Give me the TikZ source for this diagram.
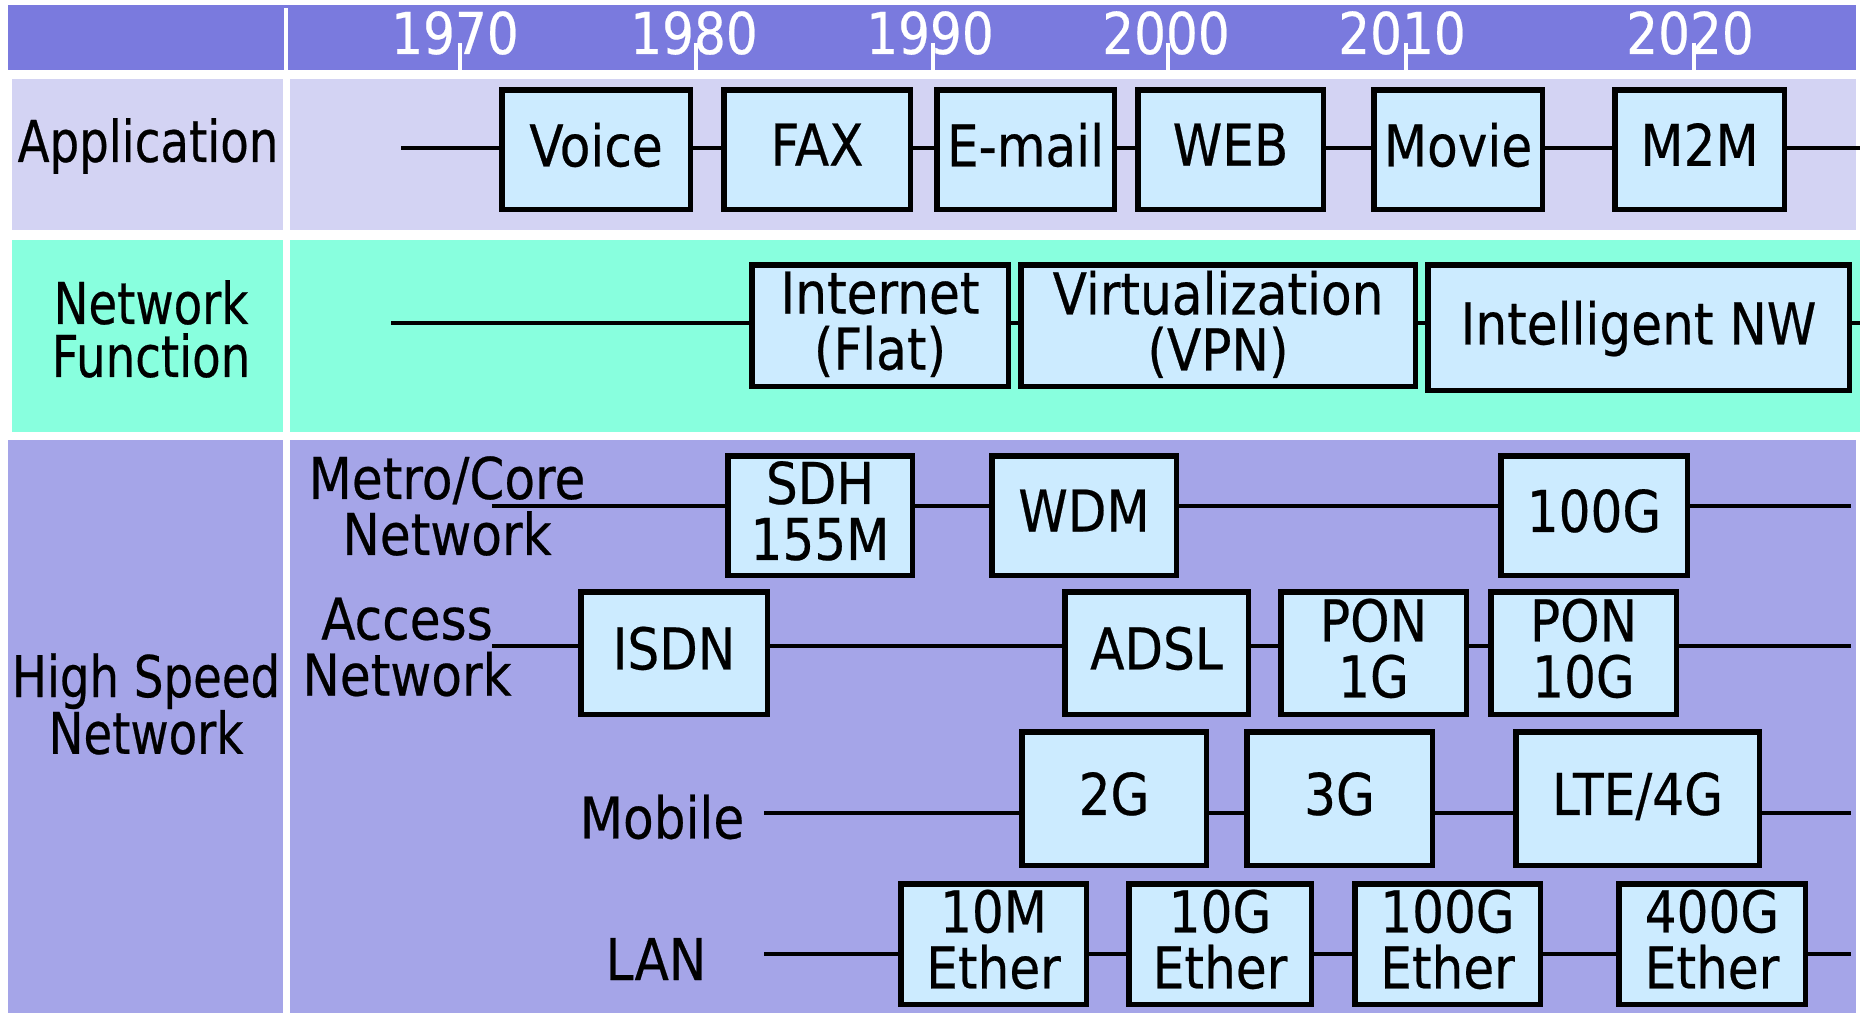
\documentclass[tikz,border=0pt]{standalone}
\usepackage{fontspec}
\setmainfont{DejaVu Sans}[FakeStretch=0.87, FakeBold=0.4]
\newfontfamily\narrowfont{DejaVu Sans}[FakeStretch=0.81, FakeBold=0.4]
\definecolor{headbg}{HTML}{7A7ADE}
\definecolor{appbg}{HTML}{D3D3F3}
\definecolor{nfbg}{HTML}{88FFDE}
\definecolor{hsbg}{HTML}{A5A5E8}
\definecolor{boxfill}{HTML}{CCEBFF}
% box from outer corners: name, x1, y1, x2, y2, text
\newcommand\ybox[6]{%
  \node[box, minimum width={#4-#2-5.5}, minimum height={#5-#3-5.5}]
    (#1) at ({(#2+#4)/2},{(#3+#5)/2}) {#6};}
\begin{document}
\begin{tikzpicture}[x=1pt,y=-1pt,
  every node/.style={font=\fontsize{57.6}{56}\selectfont, inner sep=0pt, align=center},
  rowtitle/.style={font=\narrowfont\fontsize{57.6}{#1}\selectfont},
  rowtitle/.default=56,
  box/.style={draw=black, line width=5.5pt, fill=boxfill, text depth=10pt},
  conn/.style={draw=black, line width=3.5pt},
  tick/.style={draw=white, line width=4.5pt},
  year/.style={text=white}]
\useasboundingbox (0,0) rectangle (1860,1013);
\fill[white] (0,0) rectangle (1860,1013);

% header band with year scale
\fill[headbg] (8,5) rectangle (1856,70);
\draw[tick] (286,8) -- (286,70);
\foreach \yr/\xc/\xt/\yb in {1970/455/460/70, 1980/694/696/70, 1990/930/933/70,
                             2000/1166/1168/70, 2010/1402/1406/70, 2020/1690/1694/80}{
  \node[year] (y\yr) at (\xc,33) {\yr};
  \draw[tick] (\xt,43) -- (\xt,\yb);
}

% row backgrounds
\fill[appbg] (12,79) rectangle (283,230);
\fill[appbg] (290,79) rectangle (1856,230);
\fill[nfbg] (12,240) rectangle (283,432);
\fill[nfbg] (290,240) rectangle (1860,432);
\fill[hsbg] (8,440) rectangle (283,1013);
\fill[hsbg] (290,440) rectangle (1856,1013);

% row titles
\node[rowtitle] (lapp) at (148,146) {Application};
\node[rowtitle=53] (lnf) at (151,329) {Network\\Function};
\node[rowtitle=52] (lhs) at (146,704) {High Speed\\Network};
\node (lmc) at (447,506) {Metro/Core\\Network};
\node (lacc) at (407,647) {Access\\Network};
\node (lmob) at (662,817) {Mobile};
\node (llan) at (656,959) {LAN};

% application
\ybox{voice}{499}{87}{693}{212}{Voice}
\ybox{fax}{721}{87}{913}{212}{FAX}
\ybox{email}{934}{87}{1117}{212}{E-mail}
\ybox{web}{1135}{87}{1326}{212}{WEB}
\ybox{movie}{1371}{87}{1545}{212}{Movie}
\ybox{mtm}{1612}{87}{1787}{212}{M2M}
\coordinate (aS) at (401,148);
\coordinate (aE) at (1860,148);
\draw[conn] (aS) -- (voice.west |- aS);
\draw[conn] (voice.east |- aS) -- (fax.west |- aS);
\draw[conn] (fax.east |- aS) -- (email.west |- aS);
\draw[conn] (email.east |- aS) -- (web.west |- aS);
\draw[conn] (web.east |- aS) -- (movie.west |- aS);
\draw[conn] (movie.east |- aS) -- (mtm.west |- aS);
\draw[conn] (mtm.east |- aS) -- (aE);

% network function
\ybox{inet}{749}{262}{1011}{389}{Internet\\(Flat)}
\ybox{virt}{1018}{262}{1418}{389}{Virtualization\\(VPN)}
\ybox{intel}{1425}{262}{1852}{393}{Intelligent NW}
\coordinate (nS) at (391,323);
\coordinate (nE) at (1860,323);
\draw[conn] (nS) -- (inet.west |- nS);
\draw[conn] (inet.east |- nS) -- (virt.west |- nS);
\draw[conn] (virt.east |- nS) -- (intel.west |- nS);
\draw[conn] (intel.east |- nS) -- (nE);

% metro / core
\ybox{sdh}{725}{453}{915}{578}{SDH\\155M}
\ybox{wdm}{989}{453}{1179}{578}{WDM}
\ybox{chg}{1498}{453}{1690}{578}{100G}
\coordinate (mS) at (492,506);
\coordinate (mE) at (1851,506);
\draw[conn] (mS) -- (sdh.west |- mS);
\draw[conn] (sdh.east |- mS) -- (wdm.west |- mS);
\draw[conn] (wdm.east |- mS) -- (chg.west |- mS);
\draw[conn] (chg.east |- mS) -- (mE);

% access
\ybox{isdn}{578}{589}{770}{717}{ISDN}
\ybox{adsl}{1062}{589}{1251}{717}{ADSL}
\ybox{ponA}{1278}{589}{1469}{717}{PON\\1G}
\ybox{ponB}{1488}{589}{1679}{717}{PON\\10G}
\coordinate (cS) at (492,646);
\coordinate (cE) at (1851,646);
\draw[conn] (cS) -- (isdn.west |- cS);
\draw[conn] (isdn.east |- cS) -- (adsl.west |- cS);
\draw[conn] (adsl.east |- cS) -- (ponA.west |- cS);
\draw[conn] (ponA.east |- cS) -- (ponB.west |- cS);
\draw[conn] (ponB.east |- cS) -- (cE);

% mobile
\ybox{gtwo}{1019}{729}{1209}{868}{2G}
\ybox{gthree}{1244}{729}{1435}{868}{3G}
\ybox{lte}{1513}{729}{1762}{868}{LTE/4G}
\coordinate (bS) at (764,813);
\coordinate (bE) at (1851,813);
\draw[conn] (bS) -- (gtwo.west |- bS);
\draw[conn] (gtwo.east |- bS) -- (gthree.west |- bS);
\draw[conn] (gthree.east |- bS) -- (lte.west |- bS);
\draw[conn] (lte.east |- bS) -- (bE);

% LAN
\ybox{etA}{898}{881}{1089}{1007}{10M\\Ether}
\ybox{etB}{1126}{881}{1314}{1007}{10G\\Ether}
\ybox{etC}{1352}{881}{1543}{1007}{100G\\Ether}
\ybox{etD}{1616}{881}{1808}{1007}{400G\\Ether}
\coordinate (eS) at (764,954);
\coordinate (eE) at (1851,954);
\draw[conn] (eS) -- (etA.west |- eS);
\draw[conn] (etA.east |- eS) -- (etB.west |- eS);
\draw[conn] (etB.east |- eS) -- (etC.west |- eS);
\draw[conn] (etC.east |- eS) -- (etD.west |- eS);
\draw[conn] (etD.east |- eS) -- (eE);
\end{tikzpicture}
\end{document}
